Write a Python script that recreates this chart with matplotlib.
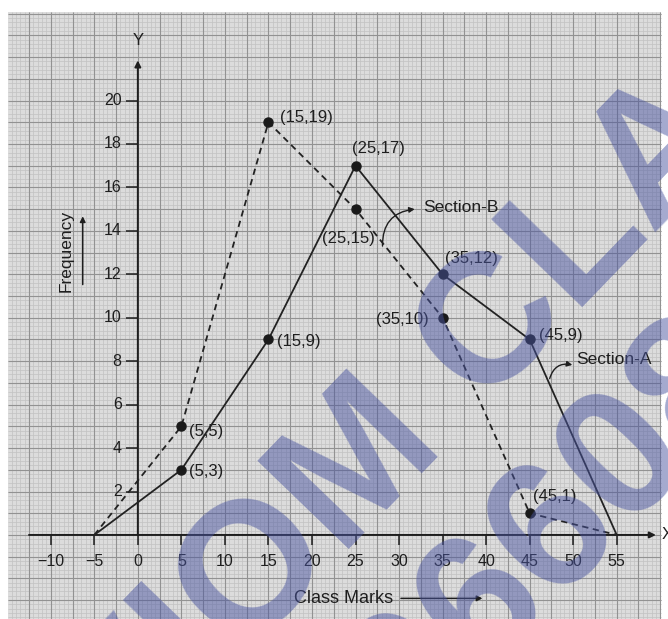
import numpy as np
import matplotlib
matplotlib.use("Agg")
from matplotlib import pyplot as plt
from matplotlib.patches import Rectangle

plt.rcParams['font.family'] = ['Liberation Sans', 'DejaVu Sans']

# data
class_marks = [-5, 5, 15, 25, 35, 45, 55]
freq_a = [0, 3, 9, 17, 12, 9, 0]   # Section-A (solid)
freq_b = [0, 5, 19, 15, 10, 1, 0]  # Section-B (dashed)
x_ticks = [-10, -5, 0, 5, 10, 15, 20, 25, 30, 35, 40, 45, 50, 55]
y_ticks = [2, 4, 6, 8, 10, 12, 14, 16, 18, 20]

# label offsets (data units) for interior points, left aligned text
offs_a = [(0.9, -0.1), (0.95, -0.1), (-0.35, 0.8), (0.3, 0.75), (1.1, 0.2)]
offs_b = [(0.9, -0.25), (1.3, 0.2), (-3.9, -1.35), (-7.6, -0.1), (0.4, 0.75)]

ink = '#1e1e1e'

fig = plt.figure(figsize=(6.68, 6.19), dpi=100)
ax = fig.add_axes([0, 0, 1, 1])
ax.set_xlim(-15.83, 60.89)
ax.set_ylim(-3.87, 24.63)
ax.axis('off')

# graph paper
px0, px1, py0, py1 = -14.9, 60.1, -3.87, 24.08
ax.add_patch(Rectangle((px0, py0), px1 - px0, py1 - py0, facecolor='#dcdcdc',
                       edgecolor='none', zorder=0))
ax.vlines(np.arange(-14.5, 60.01, 0.5), py0, py1, color='#c2c2c2', lw=0.5, zorder=1)
ax.hlines(np.arange(-3.8, 24.01, 0.2), px0, px1, color='#c2c2c2', lw=0.5, zorder=1)
ax.vlines(np.arange(-12.5, 60.01, 2.5), py0, py1, color='#929292', lw=0.8, zorder=1)
ax.hlines(np.arange(-3, 24.01, 1), px0, px1, color='#929292', lw=0.8, zorder=1)

# axes with arrows
arr = dict(arrowstyle='-|>', color=ink, lw=1.4, mutation_scale=9, shrinkA=0, shrinkB=0)
ax.annotate('', xy=(59.5, 0), xytext=(-12.5, 0), arrowprops=arr, zorder=3)
ax.annotate('', xy=(0, 21.85), xytext=(0, 0), arrowprops=arr, zorder=3)
ax.text(60.2, 0, 'X', fontsize=12, color=ink, va='center', ha='left')
ax.text(0, 22.75, 'Y', fontsize=12, color=ink, va='center', ha='center')

# ticks and tick labels
ax.vlines(x_ticks, -0.45, 0, color=ink, lw=1.1, zorder=3)
for t in x_ticks:
    lab = str(t).replace('-', '\u2212')
    ax.text(t, -1.23, lab, fontsize=11.5, color=ink, ha='center', va='center')
ax.hlines(y_ticks, -1.35, 0, color=ink, lw=1.1, zorder=3)
for t in y_ticks:
    ax.text(-1.85, t, str(t), fontsize=11.5, color=ink, ha='right', va='center')

# frequency polygons
ax.plot(class_marks, freq_a, color='#222222', lw=1.3, zorder=4)
ax.plot(class_marks, freq_b, color='#222222', lw=1.3, dashes=(3.5, 2.5), zorder=4)
ax.plot(class_marks[1:-1], freq_a[1:-1], 'o', color='#1a1a1a', ms=6.5, zorder=5)
ax.plot(class_marks[1:-1], freq_b[1:-1], 'o', color='#1a1a1a', ms=6.5, zorder=5)

for xs, ys, offs in [(class_marks[1:-1], freq_a[1:-1], offs_a),
                     (class_marks[1:-1], freq_b[1:-1], offs_b)]:
    for x, y, (dx, dy) in zip(xs, ys, offs):
        ax.text(x + dx, y + dy, f'({x},{y})', fontsize=12, color=ink,
                ha='left', va='center', zorder=6)

# section labels with curved arrows
carr = dict(arrowstyle='-|>', color=ink, lw=1.0, mutation_scale=8,
            connectionstyle='arc3,rad=-0.45', shrinkA=0, shrinkB=0)
ax.annotate('', xy=(31.8, 15.0), xytext=(28.1, 13.3), arrowprops=carr, zorder=6)
ax.text(32.8, 15.09, 'Section-B', fontsize=12.5, color=ink, ha='left', va='center')
ax.annotate('', xy=(49.9, 7.83), xytext=(47.3, 7.2), arrowprops=carr, zorder=6)
ax.text(50.4, 8.09, 'Section-A', fontsize=12.5, color=ink, ha='left', va='center')

# axis titles
ax.text(-8.2, 13.07, 'Frequency', fontsize=12.5, color=ink, rotation=90,
        ha='center', va='center')
ax.annotate('', xy=(-6.33, 14.8), xytext=(-6.33, 11.4),
            arrowprops=dict(arrowstyle='-|>', color=ink, lw=1.1, mutation_scale=8))
ax.text(23.6, -2.92, 'Class Marks', fontsize=13, color=ink, ha='center', va='center')
ax.annotate('', xy=(39.9, -2.92), xytext=(29.9, -2.92),
            arrowprops=dict(arrowstyle='-|>', color=ink, lw=1.1, mutation_scale=8))

# watermark
wm = dict(fontsize=132, fontweight='bold', color='#4a55a0', alpha=0.5,
          rotation=46, rotation_mode='anchor', ha='left', va='baseline', zorder=7)
ax.text(-1.87, -11.5, 'VIOM CLASSES', **wm)
ax.text(31.56, -9.78, '96608', **wm)

fig.savefig('out.png', dpi=100)
